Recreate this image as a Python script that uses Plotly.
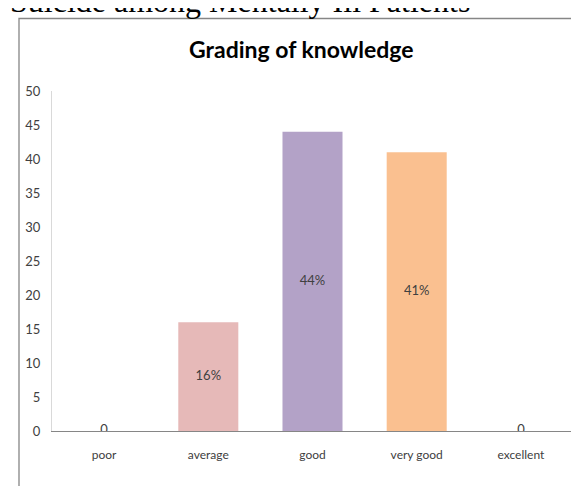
import plotly.graph_objects as go

categories = ["poor", "average", "good", "very good", "excellent"]
values = [0, 16, 44, 41, 0]
value_labels = ["0", "16%", "44%", "41%", "0"]
bar_colors = ["#E6B9B8", "#E6B9B8", "#B3A2C7", "#FAC090", "#E6B9B8"]
y_ticks = list(range(0, 51, 5))

W, H = 579, 486
L, R, T, B = 44, 14, 83, 63
pw, ph = W - L - R, H - T - B

def px_x(px):
    return (px - L) / pw

def px_y(py):
    return (H - B - py) / ph

font_main = "Lato, Carlito, Calibri, Liberation Sans, sans-serif"
txt_col = "#404040"

fig = go.Figure()
fig.add_trace(go.Bar(
    x=categories, y=values,
    marker=dict(color=bar_colors, line=dict(width=0)),
    hoverinfo="skip", showlegend=False,
))
fig.add_trace(go.Scatter(
    x=categories, y=[v / 2 for v in values],
    mode="text", text=value_labels,
    textfont=dict(family=font_main, size=13, color=txt_col),
    textposition="middle center",
    hoverinfo="skip", showlegend=False,
))

fig.update_layout(
    width=W, height=H,
    margin=dict(l=L, r=R, t=T, b=B),
    paper_bgcolor="white", plot_bgcolor="white",
    bargap=0.424,
    font=dict(family=font_main, size=12, color=txt_col),
    xaxis=dict(
        showline=True, linecolor="#868686", linewidth=1,
        ticks="", showgrid=False, zeroline=False,
        tickfont=dict(family=font_main, size=12, color=txt_col),
        ticklabelstandoff=13,
    ),
    yaxis=dict(
        range=[0, 50], tickvals=y_ticks,
        showline=True, linecolor="#D9D9D9", linewidth=1,
        ticks="", showgrid=False, zeroline=False,
        tickfont=dict(family=font_main, size=13, color=txt_col),
        ticklabelstandoff=8,
    ),
    shapes=[dict(
        type="rect", xref="paper", yref="paper",
        x0=px_x(11), x1=px_x(620), y0=px_y(540), y1=px_y(10.5),
        line=dict(color="#868686", width=1.3), fillcolor="rgba(0,0,0,0)",
        layer="below",
    )],
    annotations=[
        dict(text="Suicide among Mentally Ill Patients", xref="paper", yref="paper",
             x=px_x(0), y=px_y(12.5), xanchor="left", yanchor="bottom",
             showarrow=False,
             font=dict(family="Liberation Serif, Times New Roman, serif", size=32, color="black")),
        dict(text="<b>Grading of knowledge</b>", xref="paper", yref="paper",
             x=px_x(293), y=px_y(41), xanchor="center", yanchor="middle",
             showarrow=False,
             font=dict(family=font_main, size=23, color="black")),
    ],
)

fig.write_html("out.html")
